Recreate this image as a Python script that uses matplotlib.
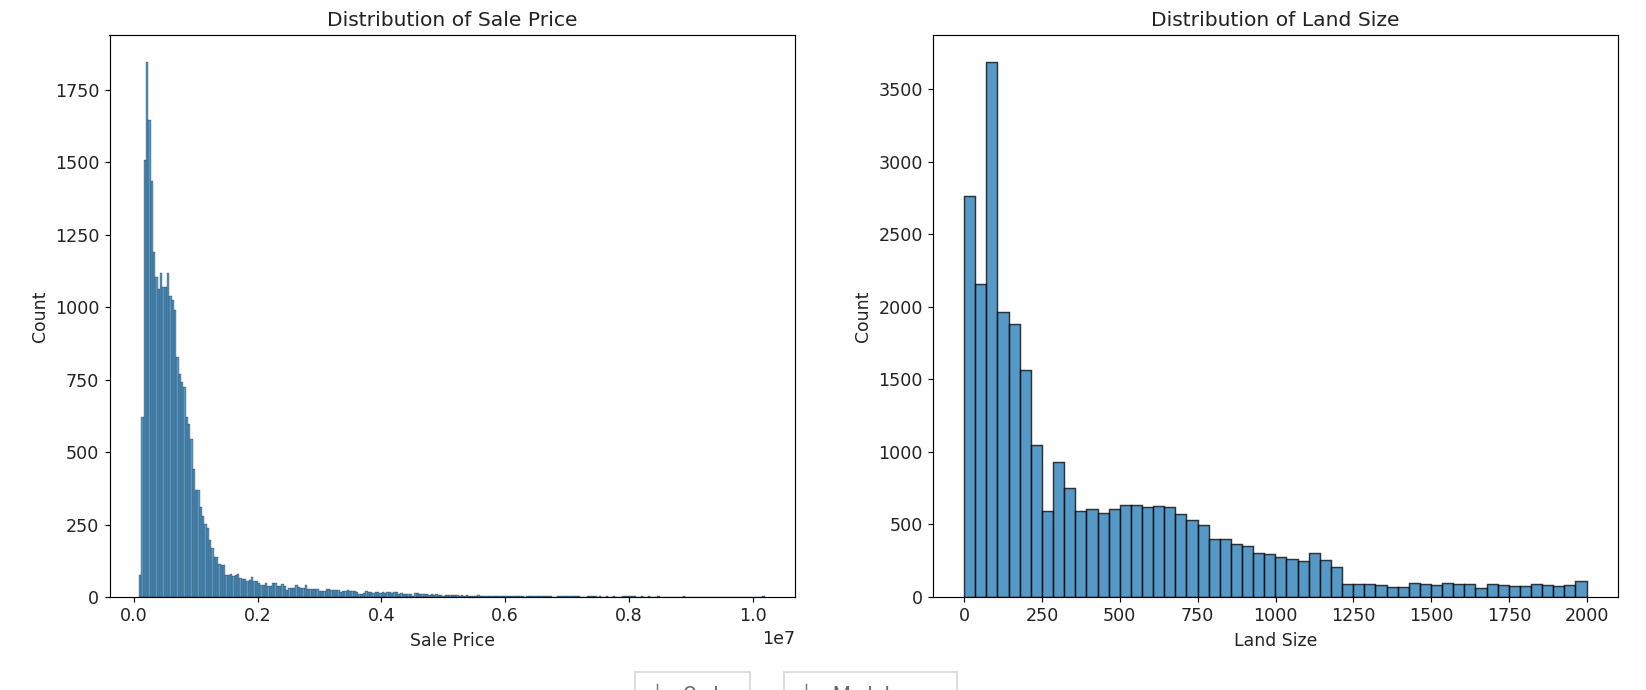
import matplotlib
matplotlib.use("Agg")
import matplotlib.pyplot as plt
from matplotlib.patches import Rectangle
from matplotlib.lines import Line2D
import numpy as np

W, H, DPI = 1646, 690, 105

price_start = 85000
price_width = 37700
price_counts = [
    75, 620, 1507, 1848, 1645, 1435, 1190, 1105, 1063, 1120,
    1070, 1070, 1117, 1040, 1024, 992, 828, 769, 742, 725,
    620, 596, 545, 441, 369, 369, 311, 280, 251, 239,
    196, 169, 139, 139, 114, 111, 111, 75, 75, 79,
    72, 75, 79, 66, 62, 62, 55, 60, 68, 56,
    56, 49, 40, 40, 48, 38, 38, 49, 49, 38,
    38, 45, 38, 24, 32, 32, 30, 40, 36, 30,
    30, 40, 28, 28, 26, 29, 29, 22, 20, 20,
    29, 29, 24, 24, 24, 24, 17, 21, 22, 24,
    21, 22, 20, 18, 12, 12, 13, 20, 17, 16,
    15, 17, 16, 14, 16, 15, 17, 16, 15, 17,
    16, 12, 13, 12, 11, 12, 12, 5, 13, 13,
    12, 9, 10, 9, 8, 9, 8, 9, 8, 8,
    4, 8, 7, 8, 8, 7, 6, 5, 6, 5,
    6, 5, 4, 5, 5, 7, 4, 5, 4, 4,
    4, 5, 4, 4, 4, 4, 4, 4, 4, 4,
    4, 4, 4, 4, 4, 0, 4, 4, 4, 4,
    4, 4, 4, 4, 4, 4, 4, 0, 0, 4,
    4, 4, 4, 4, 4, 3, 4, 4, 3, 0,
    0, 0, 3, 3, 3, 3, 0, 3, 0, 0,
    3, 0, 0, 3, 0, 0, 0, 3, 3, 3,
    3, 3, 3, 0, 0, 3, 0, 0, 3, 0,
    0, 0, 3, 0, 0, 0, 0, 0, 0, 0,
    0, 0, 0, 3, 0, 0, 0, 0, 0, 0,
    0, 0, 0, 0, 0, 0, 0, 0, 0, 0,
    0, 0, 0, 0, 0, 0, 0, 0, 0, 0,
    0, 0, 0, 0, 0, 0, 0, 3,
]

land_width = 35.7
land_counts = [
    2763, 2159, 3688, 1965, 1882, 1567, 1045, 595, 929, 751,
    593, 609, 576, 609, 633, 633, 619, 626, 619, 569,
    533, 496, 397, 397, 364, 353, 303, 294, 278, 262,
    246, 303, 255, 205, 92, 92, 92, 85, 71, 71,
    99, 92, 85, 99, 92, 92, 64, 92, 85, 73,
    73, 92, 83, 73, 83, 108,
]

plt.rcParams["font.family"] = "DejaVu Sans"
plt.rcParams["xtick.labelsize"] = 12
plt.rcParams["ytick.labelsize"] = 12
plt.rcParams["axes.labelsize"] = 11.8
plt.rcParams["text.color"] = "#222222"
plt.rcParams["axes.labelcolor"] = "#222222"
plt.rcParams["xtick.labelcolor"] = "#222222"
plt.rcParams["ytick.labelcolor"] = "#222222"
fig = plt.figure(figsize=(W / DPI, H / DPI), dpi=DPI)


def axes_px(x0, x1, y0, y1):
    return fig.add_axes([x0 / W, 1 - y1 / H, (x1 - x0) / W, (y1 - y0) / H])


BAR = "#1f77b4"

ax1 = axes_px(109.5, 795, 35, 597)
edges1 = price_start + price_width * np.arange(len(price_counts))
ax1.bar(edges1, price_counts, width=price_width, align="edge",
        color=BAR, edgecolor="black", linewidth=0.22, alpha=0.75)
ax1.set_xlim(-391000, 10680000)
ax1.set_ylim(0, 1940)
ax1.set_title("Distribution of Sale Price", fontsize=13.9, pad=6.5)
ax1.set_xlabel("Sale Price", labelpad=5)
ax1.set_ylabel("Count")

ax2 = axes_px(933, 1618, 35, 597)
edges2 = land_width * np.arange(len(land_counts))
ax2.bar(edges2, land_counts, width=land_width, align="edge",
        color=BAR, edgecolor="black", linewidth=1.0, alpha=0.75)
ax2.set_xlim(-100, 2100)
ax2.set_ylim(0, 3872)
ax2.set_title("Distribution of Land Size", fontsize=13.9, pad=6.5)
ax2.set_xlabel("Land Size", labelpad=5)
ax2.set_ylabel("Count")

# Cut-off notebook buttons along the bottom edge
for x0, x1, label in [(635, 750, "Code"), (784, 957, "Markdown")]:
    fig.add_artist(Rectangle((x0 / W, 1 - 700 / H), (x1 - x0) / W, 28 / H,
                             transform=fig.transFigure, facecolor="white",
                             edgecolor="#dadce0", linewidth=1.3))
    fig.add_artist(Line2D([(x0 + 22) / W] * 2, [1 - 684 / H, 0],
                          transform=fig.transFigure, color="#777777", lw=1))
    fig.text((x0 + 48) / W, 1 - 686 / H, label, fontsize=14, color="#666666",
             va="top", ha="left", family="Roboto")

fig.savefig("out.png", dpi=DPI)
